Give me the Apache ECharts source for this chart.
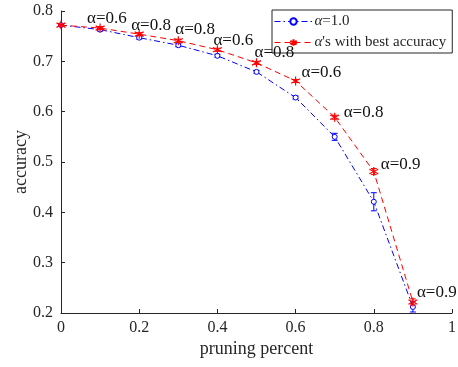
<!DOCTYPE html>
<html><head><meta charset="utf-8">
<script src="https://cdn.jsdelivr.net/npm/echarts@6/dist/echarts.min.js"></script>
<style>html,body{margin:0;padding:0;background:#fff}#c{width:458px;height:367px}</style>
</head><body><div id="c"></div><script>
const pruning = [0, 0.1, 0.2, 0.3, 0.4, 0.5, 0.6, 0.7, 0.8, 0.9];
const accAlpha1 = [0.772, 0.763, 0.747, 0.732, 0.711, 0.679, 0.628, 0.550, 0.421, 0.212];
const errAlpha1 = [0.002, 0.003, 0.003, 0.003, 0.003, 0.003, 0.003, 0.007, 0.018, 0.010];
const accBest = [0.772, 0.766, 0.754, 0.741, 0.723, 0.697, 0.661, 0.589, 0.481, 0.222];
const errBest = [0.002, 0.003, 0.003, 0.003, 0.003, 0.003, 0.003, 0.004, 0.006, 0.006];
const bestAlpha = ['', '0.6', '0.8', '0.8', '0.6', '0.8', '0.6', '0.8', '0.9', '0.9'];
const seriesNames = ['{i|α}=1.0', "{i|α}'s with best accuracy"];
const xTicks = [0, 0.2, 0.4, 0.6, 0.8, 1];
const yTicks = [0.2, 0.3, 0.4, 0.5, 0.6, 0.7, 0.8];

const FONT = '"Liberation Serif","Times New Roman",serif';
const AXC = '#262626';
const BLUE = '#0000ff', RED = '#ff0000';
// pixel offsets of the alpha annotations (label left-middle relative to point)
const labelOffsets = [[0,0],[-13,-10],[-8,-9],[-3,-11],[-4,-9],[-2,-10],[6,-8],[9,-5],[7,-7],[4,-9]];
const asterisk = 'path://M0,-5L0,5M-4.33,-2.5L4.33,2.5M-4.33,2.5L4.33,-2.5';

function errSeries(name, ys, errs, color, z) {
  return {
    type: 'custom', name: name + '_err', silent: true, z: z,
    renderItem: function (params, api) {
      const x = api.value(0), lo = api.value(1), hi = api.value(2);
      const p1 = api.coord([x, lo]), p2 = api.coord([x, hi]);
      const w = 3;
      const st = { stroke: color, lineWidth: 1 };
      return { type: 'group', children: [
        { type: 'line', shape: { x1: p1[0], y1: p1[1], x2: p2[0], y2: p2[1] }, style: st },
        { type: 'line', shape: { x1: p1[0] - w, y1: p1[1], x2: p1[0] + w, y2: p1[1] }, style: st },
        { type: 'line', shape: { x1: p2[0] - w, y1: p2[1], x2: p2[0] + w, y2: p2[1] }, style: st }
      ]};
    },
    encode: { x: 0, y: [1, 2] },
    data: pruning.map((x, i) => [x, ys[i] - errs[i], ys[i] + errs[i]])
  };
}

const chart = echarts.init(document.getElementById('c'), null, { renderer: 'canvas' });
chart.setOption({
  animation: false,
  backgroundColor: '#fff',
  grid: { left: 61, right: 6, top: 11, bottom: 54, containLabel: false, outerBoundsMode: 'none' },
  xAxis: {
    type: 'value', min: xTicks[0], max: xTicks[xTicks.length - 1], interval: 0.2,
    name: 'pruning percent', nameLocation: 'middle', nameGap: 27, nameMoveOverlap: false,
    nameTextStyle: { fontFamily: FONT, fontSize: 18, color: AXC },
    axisLine: { lineStyle: { color: AXC, width: 1 } },
    axisTick: { inside: true, length: 4, lineStyle: { color: AXC } },
    axisLabel: { fontFamily: FONT, fontSize: 16, color: AXC, margin: 7 },
    splitLine: { show: false }
  },
  yAxis: {
    type: 'value', min: yTicks[0], max: yTicks[yTicks.length - 1], interval: 0.1,
    name: 'accuracy', nameLocation: 'middle', nameGap: 31, nameMoveOverlap: false,
    nameTextStyle: { fontFamily: FONT, fontSize: 18, color: AXC },
    axisLine: { show: true, lineStyle: { color: AXC, width: 1 } },
    axisTick: { show: true, inside: true, length: 4, lineStyle: { color: AXC } },
    axisLabel: { fontFamily: FONT, fontSize: 16, color: AXC, margin: 8 },
    splitLine: { show: false }
  },
  legend: {
    left: 272, top: 10, orient: 'vertical', itemWidth: 38, itemHeight: 8, itemGap: 6,
    padding: [4, 6, 3, 2],
    borderColor: '#262626', borderWidth: 1, backgroundColor: '#fff',
    data: seriesNames,
    lineStyle: { width: 1 },
    textStyle: { fontFamily: FONT, fontSize: 15, color: AXC, padding: [0, 0, 0, -3],
      rich: { i: { fontFamily: FONT, fontSize: 15, fontStyle: 'italic', color: AXC } } }
  },
  series: [
    errSeries('a1', accAlpha1, errAlpha1, BLUE, 2),
    {
      type: 'line', name: seriesNames[0], z: 3,
      data: pruning.map((x, i) => [x, accAlpha1[i]]),
      symbol: 'circle', symbolSize: 5, showSymbol: true,
      itemStyle: { color: '#fff', borderColor: BLUE, borderWidth: 1 },
      lineStyle: { color: BLUE, width: 1, type: [6, 3, 1.5, 3] }
    },
    errSeries('best', accBest, errBest, RED, 4),
    {
      type: 'line', name: seriesNames[1], z: 5,
      data: pruning.map((x, i) => ({
        value: [x, accBest[i]],
        label: {
          show: bestAlpha[i] !== '',
          formatter: 'α=' + bestAlpha[i],
          position: 'inside', align: 'left', verticalAlign: 'middle',
          offset: labelOffsets[i],
          fontFamily: FONT, fontSize: 17, color: '#111'
        }
      })),
      symbol: asterisk, symbolSize: 9, showSymbol: true,
      itemStyle: { color: 'none', borderColor: RED, borderWidth: 1.2 },
      lineStyle: { color: RED, width: 1, type: [6, 4] }
    }
  ]
});
</script></body></html>
